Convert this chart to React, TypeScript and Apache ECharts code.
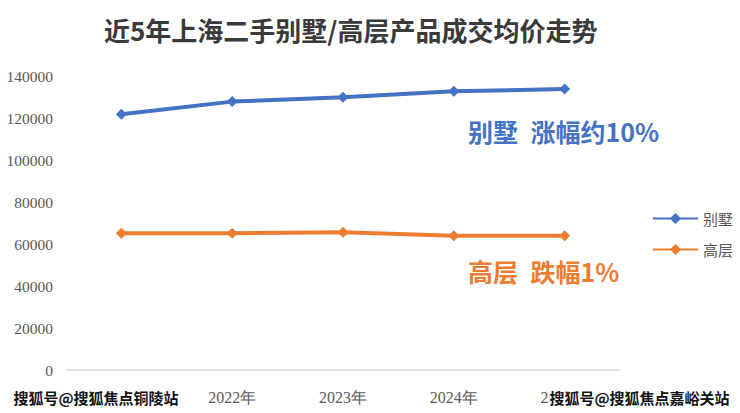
import React, { useEffect, useRef } from "react";
import * as echarts from "echarts";

const categories = ["2021年", "2022年", "2023年", "2024年", "2025年"];
const villaValues = [121800, 127800, 129900, 132700, 133800];
const highRiseValues = [65100, 65100, 65600, 63900, 63900];
const yTicks = { min: 0, max: 140000, interval: 20000 };

const BLUE = "#4472C4";
const ORANGE = "#ED7D31";
const GRAY = "#595959";
const CJK = '"Noto Sans CJK SC", "Noto Sans", sans-serif';
const SERIF = '"Liberation Serif", "DejaVu Serif", serif';

export default function App() {
  const ref = useRef<HTMLDivElement>(null);
  useEffect(() => {
    if (!ref.current) return;
    const chart = echarts.init(ref.current, null, { renderer: "svg" });
    chart.setOption({
      animation: false,
      backgroundColor: "#fff",
      title: {
        text: "近5年上海二手别墅/高层产品成交均价走势",
        left: 99,
        top: 11,
        textStyle: { fontFamily: CJK, fontSize: 26, fontWeight: "bold", color: "#3a3a3a" },
      },
      grid: { left: 66, right: 120, top: 76, bottom: 43, containLabel: false },
      legend: {
        orient: "vertical",
        left: 647,
        top: 206,
        itemWidth: 45,
        itemHeight: 14,
        itemGap: 16,
        textStyle: { fontFamily: CJK, fontSize: 15, color: GRAY },
        data: ["别墅", "高层"],
      },
      xAxis: {
        type: "category",
        data: categories,
        boundaryGap: true,
        axisTick: { show: false },
        axisLine: { lineStyle: { color: "#D9D9D9", width: 1.5 } },
        axisLabel: { fontFamily: SERIF, fontSize: 16, color: GRAY, margin: 19 },
      },
      yAxis: {
        type: "value",
        min: yTicks.min,
        max: yTicks.max,
        interval: yTicks.interval,
        axisLine: { show: false },
        axisTick: { show: false },
        splitLine: { show: false },
        axisLabel: {
          fontFamily: SERIF,
          fontSize: 15.5,
          color: GRAY,
          margin: 13,
          formatter: (v: number) => String(v),
        },
      },
      series: [
        {
          name: "别墅",
          type: "line",
          data: villaValues,
          symbol: "diamond",
          symbolSize: 11,
          lineStyle: { color: BLUE, width: 4 },
          itemStyle: { color: BLUE },
        },
        {
          name: "高层",
          type: "line",
          data: highRiseValues,
          symbol: "diamond",
          symbolSize: 11,
          lineStyle: { color: ORANGE, width: 4 },
          itemStyle: { color: ORANGE },
        },
      ],
      graphic: [
        {
          type: "text",
          left: 468,
          top: 118,
          z: 10,
          style: {
            text: "别墅\u2002涨幅约10%",
            fill: BLUE,
            font: `bold 25px ${CJK}`,
          },
        },
        {
          type: "text",
          left: 468,
          top: 258,
          z: 10,
          style: {
            text: "高层\u2002跌幅1%",
            fill: ORANGE,
            font: `bold 25px ${CJK}`,
          },
        },
        {
          type: "text",
          left: 12,
          top: 388,
          z: 100,
          style: {
            text: "搜狐号@搜狐焦点铜陵站",
            fill: "#111",
            stroke: "#fff",
            lineWidth: 3,
            font: `bold 15px ${CJK}`,
            backgroundColor: "#fff",
          },
        },
        {
          type: "text",
          left: 548,
          top: 388,
          z: 100,
          style: {
            text: "搜狐号@搜狐焦点嘉峪关站",
            fill: "#111",
            stroke: "#fff",
            lineWidth: 3,
            font: `bold 15px ${CJK}`,
            backgroundColor: "#fff",
          },
        },
      ],
    });
    return () => chart.dispose();
  }, []);
  return (
    <div
      ref={ref}
      style={{ position: "fixed", left: 0, top: 0, width: 740, height: 413 }}
    />
  );
}
